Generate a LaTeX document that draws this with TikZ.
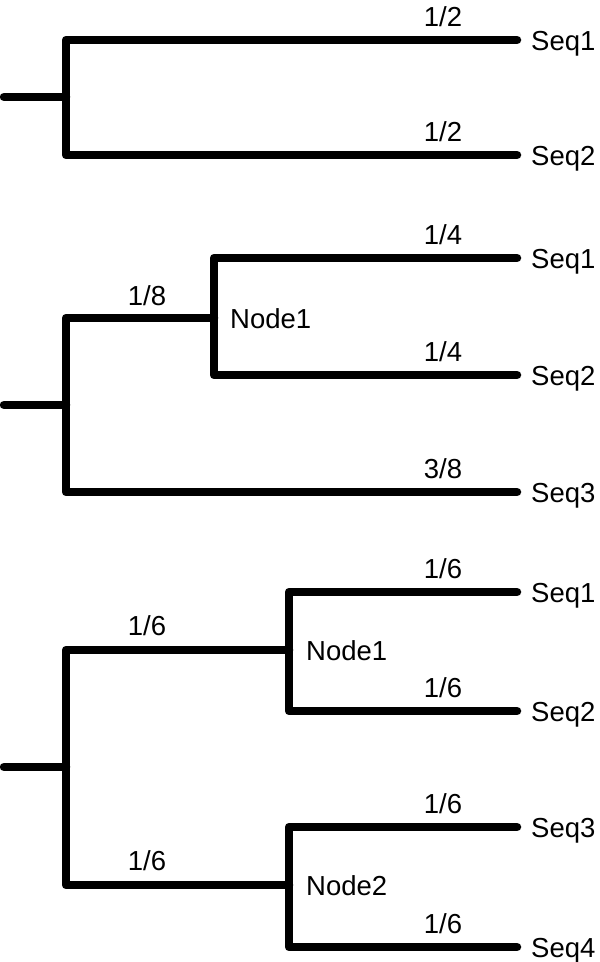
\documentclass[tikz,border=0pt]{standalone}
\usepackage{fontspec}
\setmainfont{Liberation Sans}
\begin{document}
\begin{tikzpicture}[x=1pt,y=-1pt,
  branch/.style={line width=8.5pt, line cap=round, line join=round},
  txt/.style={font=\fontsize{27.5}{27.5}\selectfont, inner sep=0pt},
  leaf/.style={txt, anchor=base west},
  wt/.style={txt, anchor=base},
  inode/.style={txt, anchor=base west}]
\useasboundingbox (0,0) rectangle (600,962);
% ---------- Tree 1 ----------
\coordinate (A0) at (4,97);   \coordinate (A) at (66,97);
\coordinate (At) at (66,40);  \coordinate (Ab) at (66,155);
\coordinate (A1) at (517,40); \coordinate (A2) at (517,155);
\draw[branch] (A0) -- (A);
\draw[branch] (A1) -- (At) -- (Ab) -- (A2);
\node[leaf] (a1) at (531,50) {Seq1};
\node[leaf] (a2) at (531,165) {Seq2};
\node[wt] (wa1) at (443,26) {1/2};
\node[wt] (wa2) at (443,141) {1/2};
% ---------- Tree 2 ----------
\coordinate (B0) at (4,405);  \coordinate (B) at (66,405);
\coordinate (Bt) at (66,318); \coordinate (Bb) at (66,492);
\coordinate (N) at (214,318);
\coordinate (Nt) at (214,258); \coordinate (Nb) at (214,375);
\coordinate (B1) at (517,258); \coordinate (B2) at (517,375); \coordinate (B3) at (517,492);
\draw[branch] (B0) -- (B);
\draw[branch] (N) -- (Bt) -- (Bb) -- (B3);
\draw[branch] (B1) -- (Nt) -- (Nb) -- (B2);
\node[leaf] (b1) at (531,268) {Seq1};
\node[leaf] (b2) at (531,385) {Seq2};
\node[leaf] (b3) at (531,502) {Seq3};
\node[inode] (bn) at (230,328) {Node1};
\node[wt] (wb0) at (147,305) {1/8};
\node[wt] (wb1) at (443,244) {1/4};
\node[wt] (wb2) at (443,361) {1/4};
\node[wt] (wb3) at (443,478) {3/8};
% ---------- Tree 3 ----------
\coordinate (C0) at (4,767);  \coordinate (C) at (66,767);
\coordinate (Ct) at (66,650); \coordinate (Cb) at (66,885);
\coordinate (P) at (289,650); \coordinate (Pt) at (289,592); \coordinate (Pb) at (289,711);
\coordinate (Q) at (289,885); \coordinate (Qt) at (289,827); \coordinate (Qb) at (289,947);
\coordinate (C1) at (517,592); \coordinate (C2) at (517,711);
\coordinate (C3) at (517,827); \coordinate (C4) at (517,947);
\draw[branch] (C0) -- (C);
\draw[branch] (P) -- (Ct) -- (Cb) -- (Q);
\draw[branch] (C1) -- (Pt) -- (Pb) -- (C2);
\draw[branch] (C3) -- (Qt) -- (Qb) -- (C4);
\node[leaf] (c1) at (531,602) {Seq1};
\node[leaf] (c2) at (531,721) {Seq2};
\node[leaf] (c3) at (531,837) {Seq3};
\node[leaf] (c4) at (531,957) {Seq4};
\node[inode] (cn1) at (306,660) {Node1};
\node[inode] (cn2) at (306,895) {Node2};
\node[wt] (wc1) at (147,635) {1/6};
\node[wt] (wc2) at (147,870) {1/6};
\node[wt] (wp1) at (443,578) {1/6};
\node[wt] (wp2) at (443,697) {1/6};
\node[wt] (wq1) at (443,813) {1/6};
\node[wt] (wq2) at (443,933) {1/6};
\end{tikzpicture}
\end{document}
